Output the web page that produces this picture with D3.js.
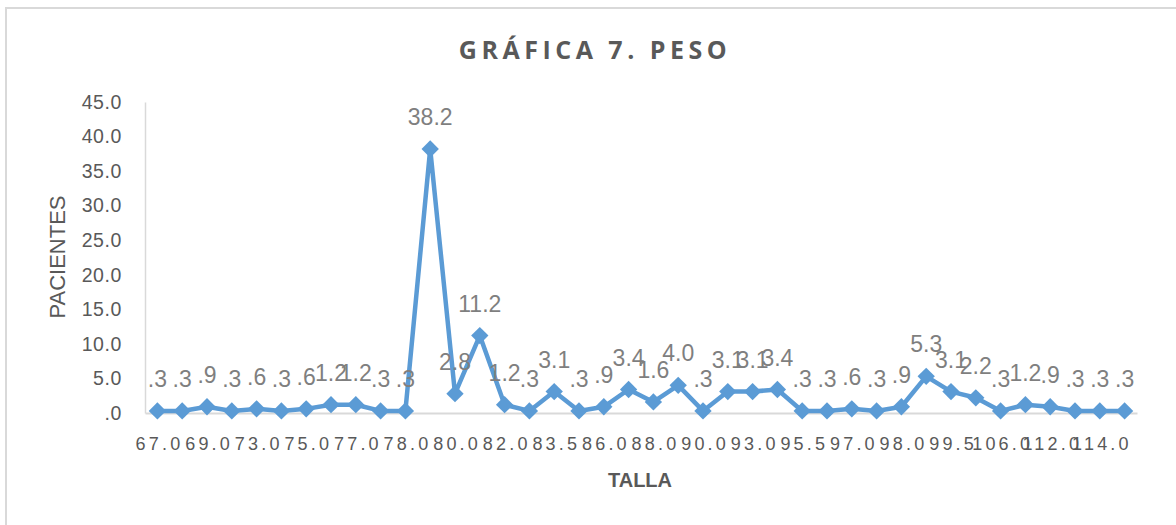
<!DOCTYPE html>
<html>
<head>
<meta charset="utf-8">
<script src="https://cdnjs.cloudflare.com/ajax/libs/d3/7.8.5/d3.min.js"></script>
<style>
  body { margin: 0; background: #fff; }
  svg { display: block; }
</style>
</head>
<body>
<script>
// categories (TALLA) - every other label is hidden in the chart
var tallas = ["67.0", "68.0", "69.0", "70.0", "73.0", "74.0", "75.0", "76.0", "77.0", "77.5",
              "78.0", "79.0", "80.0", "81.0", "82.0", "83.0", "83.5", "85.0", "86.0", "87.0",
              "88.0", "89.0", "90.0", "92.0", "93.0", "94.0", "95.5", "96.0", "97.0", "97.5",
              "98.0", "99.0", "99.5", "100.0", "106.0", "110.0", "112.0", "113.0", "114.0", "115.0"];

// percent of patients
var pacientes = [0.3, 0.3, 0.9, 0.3, 0.6, 0.3, 0.6, 1.2, 1.2, 0.3,
                 0.3, 38.2, 2.8, 11.2, 1.2, 0.3, 3.1, 0.3, 0.9, 3.4,
                 1.6, 4.0, 0.3, 3.1, 3.1, 3.4, 0.3, 0.3, 0.6, 0.3,
                 0.9, 5.3, 3.1, 2.2, 0.3, 1.2, 0.9, 0.3, 0.3, 0.3];

var yTicks = [0, 5, 10, 15, 20, 25, 30, 35, 40, 45];

d3.select(window).on('load', init);

function init()
{
    var w = 1176;
    var h = 525;

    var left = 145, right = 1137, top = 102, bottom = 413;

    // excel style "0.3" -> ".3"
    var fmt = function(v) {
        return d3.format(".1f")(v).replace(/^0\./, ".");
    };

    var svg = d3.select("body")
        .append("svg")
        .attr("width", w)
        .attr("height", h);

    // chart area border
    svg.append("rect")
        .attr("x", 6)
        .attr("y", 8)
        .attr("width", 1300)
        .attr("height", 700)
        .attr("fill", "none")
        .attr("stroke", "#d9d9d9")
        .attr("stroke-width", 2);

    var xScale = d3.scalePoint()
        .domain(tallas)
        .range([left, right])
        .padding(0.5);

    var yScale = d3.scaleLinear()
        .domain([0, 45])
        .range([bottom, top]);

    // title
    svg.append("text")
        .attr("x", 595)
        .attr("y", 59)
        .attr("text-anchor", "middle")
        .attr("font-family", "'Open Sans', sans-serif")
        .attr("font-weight", "bold")
        .attr("font-size", 25)
        .attr("letter-spacing", 4.5)
        .attr("fill", "#595959")
        .text("GRÁFICA 7. PESO");

    // y axis
    var yAxis = d3.axisLeft(yScale)
        .tickValues(yTicks)
        .tickSize(0)
        .tickPadding(23)
        .tickFormat(fmt);

    var gy = svg.append("g")
        .attr("transform", "translate(" + left + ",0)")
        .call(yAxis);

    gy.select(".domain")
        .attr("stroke", "#d9d9d9")
        .attr("stroke-width", 1.5);

    gy.selectAll("text")
        .attr("font-family", "'Liberation Sans', Arial, sans-serif")
        .attr("font-size", 19.5)
        .attr("letter-spacing", 0.6)
        .attr("fill", "#595959");

    // x axis, label every 2nd category
    var xAxis = d3.axisBottom(xScale)
        .tickSize(0)
        .tickPadding(24)
        .tickFormat(function(d, i) {
            return i % 2 === 0 ? d : "";
        });

    var gx = svg.append("g")
        .attr("transform", "translate(0," + bottom + ")")
        .call(xAxis);

    gx.select(".domain")
        .attr("stroke", "#d9d9d9")
        .attr("stroke-width", 2);

    gx.selectAll("text")
        .attr("font-family", "'Liberation Sans', Arial, sans-serif")
        .attr("font-size", 18)
        .attr("letter-spacing", 3.2)
        .attr("dx", 1.6)
        .attr("fill", "#595959");

    // axis titles
    svg.append("text")
        .attr("transform", "translate(65,257) rotate(-90)")
        .attr("text-anchor", "middle")
        .attr("font-family", "'Liberation Sans', Arial, sans-serif")
        .attr("font-size", 22)
        .attr("fill", "#595959")
        .text("PACIENTES");

    svg.append("text")
        .attr("x", 640)
        .attr("y", 487)
        .attr("text-anchor", "middle")
        .attr("font-family", "'Liberation Sans', Arial, sans-serif")
        .attr("font-weight", "bold")
        .attr("font-size", 20)
        .attr("fill", "#595959")
        .text("TALLA");

    // line
    var line = d3.line()
        .x(function(d, i) { return xScale(tallas[i]); })
        .y(function(d) { return yScale(d); });

    svg.append("path")
        .datum(pacientes)
        .attr("d", line)
        .attr("fill", "none")
        .attr("stroke", "#5b9bd5")
        .attr("stroke-width", 4.5)
        .attr("stroke-linejoin", "round");

    // diamond markers
    var diamond = d3.symbol().type(d3.symbolSquare).size(150);

    svg.selectAll(".marker")
        .data(pacientes)
        .enter()
        .append("path")
        .attr("class", "marker")
        .attr("d", diamond)
        .attr("transform", function(d, i) {
            return "translate(" + xScale(tallas[i]) + "," + yScale(d) + ") rotate(45)";
        })
        .attr("fill", "#5b9bd5");

    // data labels
    svg.selectAll(".dlabel")
        .data(pacientes)
        .enter()
        .append("text")
        .attr("class", "dlabel")
        .attr("x", function(d, i) { return xScale(tallas[i]); })
        .attr("y", function(d) { return yScale(d) - 24; })
        .attr("text-anchor", "middle")
        .attr("font-family", "'Liberation Sans', Arial, sans-serif")
        .attr("font-size", 23)
        .attr("fill", "#7f7f7f")
        .text(fmt);
}
</script>
</body>
</html>
